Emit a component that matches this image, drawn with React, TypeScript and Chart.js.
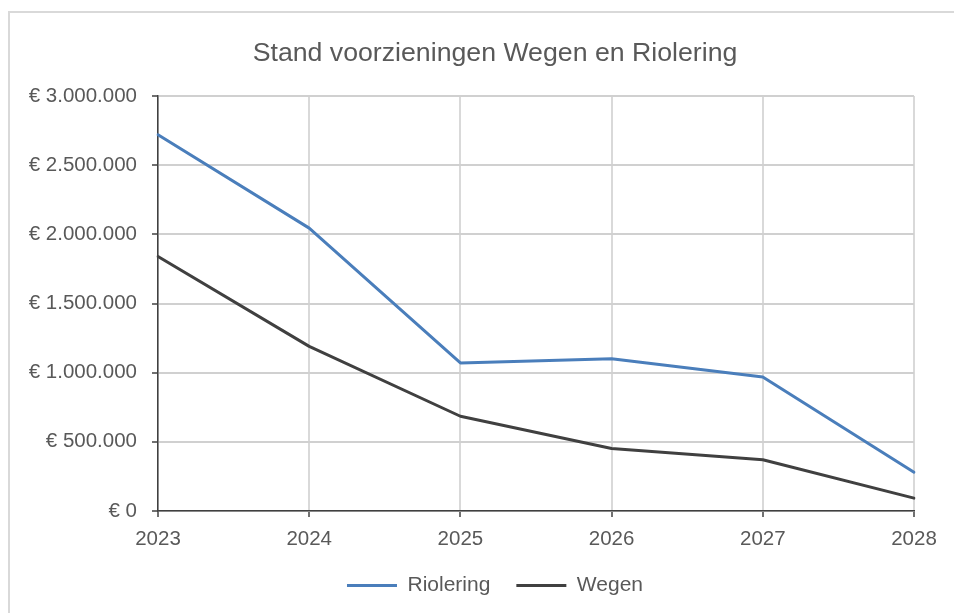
import React, { useEffect, useRef } from 'react';
import { Chart, registerables } from 'chart.js';

Chart.register(...registerables);

const years = ['2023', '2024', '2025', '2026', '2027', '2028'];
const riolering = [2720000, 2045000, 1070000, 1100000, 968000, 280000];
const wegen = [1840000, 1190000, 685000, 452000, 370000, 93000];
const yMin = 0;
const yMax = 3000000;
const yStep = 500000;

const FONT = '"Liberation Sans", Arial, sans-serif';
const TEXT = '#595959';

function euro(v: number): string {
  return '€ ' + String(Math.round(v)).replace(/\B(?=(\d{3})+(?!\d))/g, '.');
}

export default function App() {
  const ref = useRef<HTMLCanvasElement>(null);
  useEffect(() => {
    const chart = new Chart(ref.current!, {
      type: 'line',
      data: {
        labels: years,
        datasets: [
          {
            label: 'Riolering',
            data: riolering,
            borderColor: '#4a7ebb',
            backgroundColor: '#4a7ebb',
            borderWidth: 3,
            pointRadius: 0,
            tension: 0,
            borderJoinStyle: 'round',
            borderCapStyle: 'round',
          },
          {
            label: 'Wegen',
            data: wegen,
            borderColor: '#404040',
            backgroundColor: '#404040',
            borderWidth: 3,
            pointRadius: 0,
            tension: 0,
            borderJoinStyle: 'round',
            borderCapStyle: 'round',
          },
        ],
      },
      options: {
        responsive: false,
        animation: false,
        devicePixelRatio: 1,
        layout: { padding: { left: 0, right: 0, top: 0, bottom: 47 } },
        plugins: {
          tooltip: { enabled: false },
          title: {
            display: true,
            text: 'Stand voorzieningen Wegen en Riolering',
            color: TEXT,
            font: { family: FONT, size: 26.7, weight: 'normal' },
            padding: { top: 25, bottom: 25.96 },
          },
          legend: {
            position: 'bottom',
            labels: {
              color: TEXT,
              font: { family: FONT, size: 21 },
              boxWidth: 50,
              boxHeight: 3,
              padding: 26,
              generateLabels: (c: any) =>
                Chart.defaults.plugins.legend.labels.generateLabels(c).map((l: any) => ({
                  ...l,
                  lineWidth: 0,
                  strokeStyle: 'transparent',
                })),
            },
          },
        },
        scales: {
          x: {
            type: 'category',
            offset: false,
            afterFit: (s: any) => { s.height = 38; },
            grid: {
              color: '#d9d9d9',
              lineWidth: 2,
              drawTicks: true,
              tickLength: 6,
              tickColor: '#404040',
              tickWidth: 1.5,
            },
            border: { display: true, color: '#404040', width: 1.5 },
            ticks: {
              color: TEXT,
              font: { family: FONT, size: 20.5 },
              padding: 10,
              maxRotation: 0,
            },
          },
          y: {
            min: yMin,
            max: yMax,
            afterFit: (s: any) => { s.width = 148; },
            grid: {
              color: '#d0d0d0',
              lineWidth: 2,
              drawTicks: true,
              tickLength: 6,
              tickColor: '#404040',
              tickWidth: 1.5,
            },
            border: { display: true, color: '#404040', width: 1.5 },
            ticks: {
              stepSize: yStep,
              color: TEXT,
              font: { family: FONT, size: 20.5 },
              padding: 15,
              callback: (v: any) => euro(Number(v)),
            },
          },
          spacer: {
            type: 'linear',
            position: 'right',
            display: true,
            afterFit: (s: any) => { s.width = 66; },
            grid: { display: false, drawTicks: false },
            border: { display: false },
            ticks: { display: false },
          },
        },
      },
    } as any);
    return () => chart.destroy();
  }, []);

  return (
    <div style={{ position: 'fixed', inset: 0, overflow: 'hidden', background: '#fff' }}>
      <div
        style={{
          position: 'absolute',
          left: 8,
          top: 11,
          width: 970,
          height: 640,
          border: '2px solid #d9d9d9',
          background: '#fff',
        }}
      >
        <canvas ref={ref} width={970} height={640} style={{ display: 'block', width: 970, height: 640 }} />
      </div>
    </div>
  );
}
